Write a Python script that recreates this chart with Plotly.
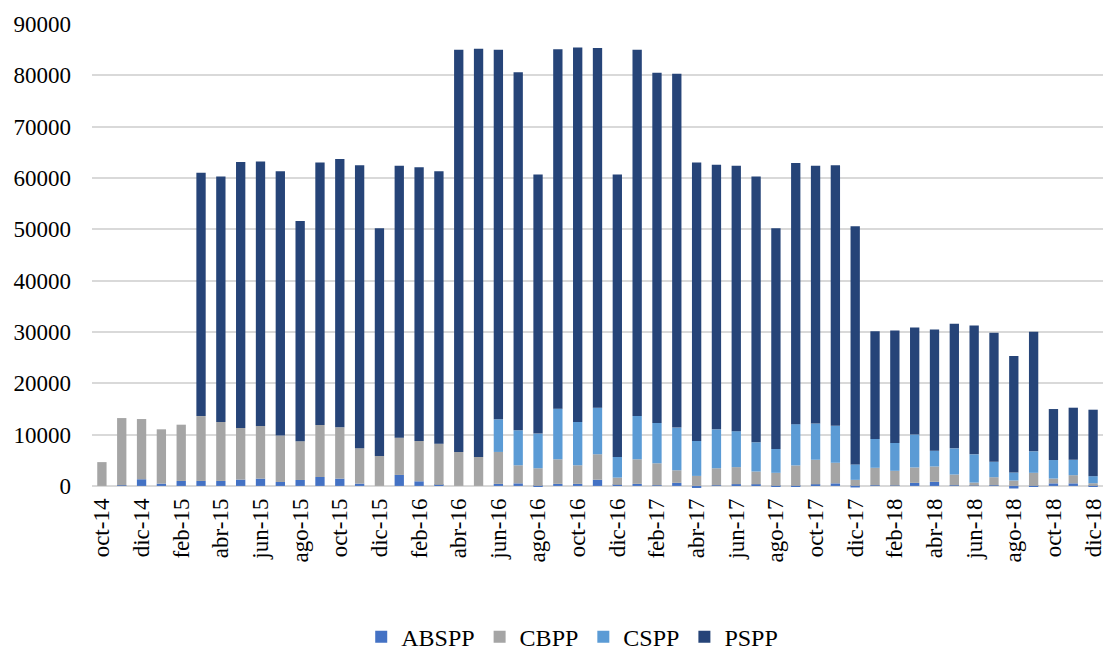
import plotly.graph_objects as go

months = ["oct-14", "nov-14", "dic-14", "ene-15", "feb-15", "mar-15", "abr-15", "may-15",
          "jun-15", "jul-15", "ago-15", "sep-15", "oct-15", "nov-15", "dic-15", "ene-16",
          "feb-16", "mar-16", "abr-16", "may-16", "jun-16", "jul-16", "ago-16", "sep-16",
          "oct-16", "nov-16", "dic-16", "ene-17", "feb-17", "mar-17", "abr-17", "may-17",
          "jun-17", "jul-17", "ago-17", "sep-17", "oct-17", "nov-17", "dic-17", "ene-18",
          "feb-18", "mar-18", "abr-18", "may-18", "jun-18", "jul-18", "ago-18", "sep-18",
          "oct-18", "nov-18", "dic-18"]

abspp = [0, 100, 1300, 450, 970, 970, 970, 1230, 1420, 770, 1160, 1740, 1420, 450, 0, 2140,
         900, 200, 0, 0, 400, 500, -200, 400, 400, 1200, 200, 400, 100, 600, -400, 100,
         330, 300, -200, -200, 300, 500, -300, 100, 50, 600, 800, 100, 50, 100, -500, -200,
         500, 500, -100]

cbpp = [4640, 13120, 11730, 10580, 10960, 12640, 11480, 10060, 10250, 9030, 7550, 10130,
        10000, 6900, 5840, 7260, 7860, 8040, 6620, 5650, 6220, 3520, 3440, 4790, 3620, 4970,
        1420, 4790, 4310, 2450, 1950, 3340, 3330, 2510, 2550, 3990, 4800, 4010, 1180, 3430,
        2890, 3000, 2990, 2120, 600, 1600, 1050, 2550, 940, 1590, 520]

cspp = [0, 0, 0, 0, 0, 0, 0, 0, 0, 0, 0, 0, 0, 0, 0, 0, 0, 0, 0, 0,
        6360, 6820, 6750, 9870, 8440, 9080, 4030, 8440, 7860, 8310, 6810, 7590, 7000, 5690,
        4640, 8040, 7060, 7190, 3010, 5630, 5430, 6410, 3080, 5100, 5500, 3010, 1570, 4190,
        3600, 3010, 1380]

pspp = [0, 0, 0, 0, 0, 47390, 47850, 51810, 51530, 51500, 42890, 51130, 52280, 55150,
        44360, 53000, 53340, 53060, 78380, 79550, 72020, 69760, 50510, 70040, 72940, 70050,
        55050, 71370, 68230, 68940, 54240, 51570, 51740, 51800, 43010, 50870, 50240, 50800,
        46410, 20990, 21910, 20860, 23610, 24270, 25110, 25110, 22690, 23280, 9940, 10140,
        12950]

y_ticks = [0, 10000, 20000, 30000, 40000, 50000, 60000, 70000, 80000, 90000]

series = [("ABSPP", abspp, "#4472C4"), ("CBPP", cbpp, "#A5A5A5"),
          ("CSPP", cspp, "#5B9BD5"), ("PSPP", pspp, "#264478")]

FONT = "Liberation Serif, Times New Roman, serif"

fig = go.Figure()
for name, vals, col in series:
    fig.add_trace(go.Bar(x=months, y=vals, name=name, marker_color=col,
                         marker_line_width=0))

fig.update_layout(
    barmode="relative",
    bargap=0.53,
    width=1103, height=650,
    margin=dict(l=92, r=0, t=24, b=161, autoexpand=False),
    paper_bgcolor="white", plot_bgcolor="white",
    font=dict(family=FONT, size=23, color="#000000"),
    showlegend=True,
    legend=dict(orientation="h", x=0.475, xanchor="center", y=-0.27, yanchor="top",
                font=dict(family=FONT, size=24, color="#000000"),
                traceorder="normal", itemwidth=30, tracegroupgap=0),
    xaxis=dict(type="category", tickangle=-90, tickvals=months[::2], ticktext=months[::2],
               showgrid=False, showline=False, ticks="", tickfont=dict(size=23),
               range=[-0.5, 50.5], automargin=False, ticklabelstandoff=4),
    yaxis=dict(range=[-600, 90000], tickvals=y_ticks, ticktext=[str(v) for v in y_ticks],
               showgrid=True, gridcolor="#D9D9D9", gridwidth=1.5, zeroline=True,
               zerolinecolor="#D9D9D9", zerolinewidth=1.5, showline=False, ticks="",
               tickfont=dict(size=23), ticklabelstandoff=20, automargin=False),
)

fig.write_html("out.html", config={"displayModeBar": False},
               post_script="document.body.style.margin='0';document.body.style.overflow='hidden';")
